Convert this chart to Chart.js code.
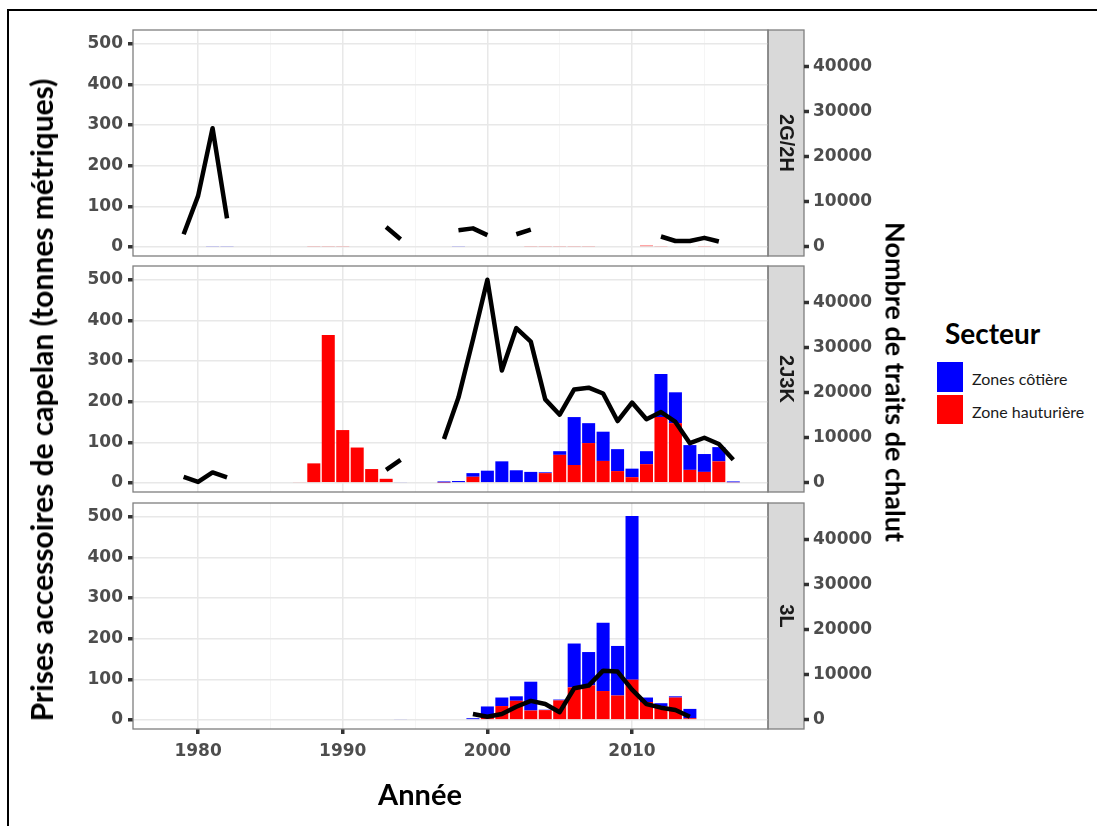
<!DOCTYPE html>
<html lang="fr">
<head>
<meta charset="utf-8">
<title>Prises accessoires de capelan</title>
<script src="https://cdn.jsdelivr.net/npm/chart.js@4.4.1/dist/chart.umd.min.js"></script>
<style>
  body { margin: 0; background: #fff; }
  #figure { position: relative; width: 1097px; height: 826px; overflow: hidden; background: #fff; font-family: Lato, "Open Sans", sans-serif; }
  #cadre { position: absolute; left: 7px; top: 9px; width: 1200px; height: 900px; border-left: 2.5px solid #000; border-top: 2.5px solid #000; }
  canvas { position: absolute; left: 0; }
  .titre { position: absolute; white-space: nowrap; font-weight: 700; color: #000; transform: translate(-50%, -50%); }
  .rot-g { transform: translate(-50%, -50%) rotate(-90deg); }
  .rot-d { transform: translate(-50%, -50%) rotate(90deg); }
  .cle { position: absolute; left: 937px; width: 26px; }
  .cle-texte { position: absolute; left: 972px; font-size: 16px; color: #1a1a1a; transform: translateY(-50%); white-space: nowrap; }
</style>
</head>
<body>
<div id="figure">
  <div id="cadre"></div>
  <canvas id="p1" width="900" height="266" style="top:10px"></canvas>
  <canvas id="p2" width="900" height="266" style="top:246px"></canvas>
  <canvas id="p3" width="900" height="296" style="top:483px"></canvas>

  <div class="titre rot-g" style="left:41px; top:400px; font-size:30px;">Prises accessoires de capelan (tonnes métriques)</div>
  <div class="titre rot-d" style="left:896px; top:382px; font-size:27px;">Nombre de traits de chalut</div>
  <div class="titre" style="left:420px; top:793px; font-size:29px;">Année</div>

  <div class="titre" style="left:945px; top:333px; font-size:28px; transform: translateY(-50%);">Secteur</div>
  <div class="cle" style="top:362px; height:30px; background:#0000ff;"></div>
  <div class="cle" style="top:395px; height:29px; background:#ff0000;"></div>
  <div class="cle-texte" style="top:378px;">Zones côtière</div>
  <div class="cle-texte" style="top:411px;">Zone hauturière</div>
</div>

<script>
// années 1979 à 2017
const annees = [1979, 1980, 1981, 1982,
  1983, 1984, 1985, 1986, 1987, 1988, 1989, 1990, 1991, 1992,
  1993, 1994, 1995, 1996, 1997, 1998, 1999, 2000, 2001, 2002,
  2003, 2004, 2005, 2006, 2007, 2008, 2009, 2010, 2011, 2012,
  2013, 2014, 2015, 2016, 2017];

// graduations de l'axe de droite
const ticksTraits = [0, 10000, 20000, 30000, 40000];

// 2G/2H
const hauturiere2G = [null, null, null, null,
  null, null, null, null, null, 1.5, 1.5, 1.5, null, null,
  null, null, null, null, null, null, null, null, null, null,
  1.5, 1.5, 1.5, 1.5, 1.5, null, null, null, 3, 1.5,
  null, null, 1.5, null, null];
const cotiere2G = [null, null, 1.5, 1.5,
  null, null, null, null, null, null, null, null, null, null,
  null, null, null, null, null, 1.5, null, null, null, null,
  null, null, null, null, null, null, null, null, null, null,
  null, null, null, null, null];
const traits2G = [2800, 11300, 26300, 6300,
  null, null, null, null, null, null, null, null, null, null,
  4400, 1700, null, null, null, 3700, 4100, 2600, null, 2800,
  3800, null, null, null, null, null, null, null, null, 2300,
  1300, 1300, 2000, 1200, null];

// 2J3K
const hauturiere2J = [null, null, null, null,
  null, null, null, null, 2, 48, 364, 130, 87, 34,
  10, null, null, null, 1, null, 15, 2, 2, 2,
  2, 24, 69, 44, 98, 54, 29, 14, 46, 162,
  147, 32, 27, 53, 1.5];
const cotiere2J = [null, null, null, null,
  null, null, null, null, null, null, null, null, null, null,
  null, 2, null, null, 2.5, 4.5, 9, 28, 51, 29,
  25, 2, 9, 118, 49, 72, 54, 21, 32, 106,
  76, 61, 44, 35, 2];
const traits2J = [1300, 200, 2300, 1200,
  null, null, null, null, null, null, null, null, null, null,
  2900, 5100, null, null, 9700, 18900, 31700, 45000, 24900, 34300,
  31300, 18500, 15100, 20700, 21100, 19800, 13700, 17800, 14100, 15700,
  13500, 8800, 10000, 8600, 5100];

// 3L
const hauturiere3L = [null, null, null, null,
  null, null, null, null, null, null, null, null, null, null,
  null, null, null, null, null, null, null, 11, 34, 47,
  23, 24, 48, 80, 85, 71, 60, 99, 44, 33,
  55, 4, null, null, null];
const cotiere3L = [null, null, null, null,
  null, null, null, null, null, null, null, null, null, null,
  null, 2, null, null, null, null, 4, 22, 21, 11,
  71, 1, 2, 108, 82, 168, 122, 403, 11, 8,
  3, 23, null, null, null];
const traits3L = [null, null, null, null,
  null, null, null, null, null, null, null, null, null, null,
  null, null, null, null, null, null, 1300, 700, 1300, 2900,
  4200, 3500, 1700, 7000, 7600, 10900, 10700, 6700, 3500, 2700,
  2200, 700, null, null, null];

// axe secondaire : 90 traits pour une tonne
const RAPPORT = 90;
const Y_MIN = -22.5, Y_MAX = 534;

const police = { family: '"DejaVu Sans", sans-serif', size: 17, weight: 'bold' };
const gris = '#4d4d4d';

const enPoints = vals => annees.map((a, i) => ({ x: a, y: vals[i] }));

// fond gris du bandeau et cadre du panneau
const bandeau = {
  id: 'bandeau',
  beforeDraw(chart) {
    const t = chart.titleBlock;
    const ctx = chart.ctx;
    ctx.save();
    ctx.fillStyle = '#d9d9d9';
    ctx.fillRect(t.left, t.top, t.width, t.height);
    ctx.strokeStyle = '#7f7f7f';
    ctx.lineWidth = 1.3;
    ctx.strokeRect(t.left, t.top, t.width, t.height);
    ctx.restore();
  },
  afterDraw(chart) {
    const a = chart.chartArea;
    const ctx = chart.ctx;
    ctx.save();
    ctx.strokeStyle = '#7f7f7f';
    ctx.lineWidth = 1.3;
    ctx.strokeRect(a.left, a.top, a.right - a.left, a.bottom - a.top);
    ctx.restore();
  }
};

function panneau(id, nom, rouge, bleu, traits, basX) {
  new Chart(document.getElementById(id), {
    type: 'bar',
    data: {
      datasets: [
        { label: 'Zone hauturière', data: enPoints(rouge), backgroundColor: '#ff0000', order: 1 },
        { label: 'Zones côtière', data: enPoints(bleu), backgroundColor: '#0000ff', order: 1 },
        { type: 'line', label: 'Traits', data: enPoints(traits), yAxisID: 'y2',
          borderColor: '#000', borderWidth: 4.5, pointRadius: 0, spanGaps: false,
          borderJoinStyle: 'round', borderCapStyle: 'butt', tension: 0, order: 0 }
      ]
    },
    options: {
      responsive: false,
      animation: false,
      layout: { padding: { top: 20, bottom: 0, left: 0, right: 0 } },
      datasets: { bar: { barPercentage: 0.9, categoryPercentage: 1 } },
      plugins: {
        legend: { display: false },
        tooltip: { enabled: false },
        title: {
          display: true, text: nom, position: 'right', fullSize: false,
          color: '#1a1a1a', padding: { top: 8, bottom: 8 },
          font: { family: '"Liberation Sans", Arial, sans-serif', size: 20, weight: 'bold', lineHeight: 1.0 }
        }
      },
      scales: {
        x: {
          type: 'linear', stacked: true, offset: false,
          min: 1975.5, max: 2019.4,
          border: { display: false },
          grid: {
            offset: false,
            drawTicks: basX,
            tickLength: 5,
            tickWidth: 3.5,
            tickColor: c => c.tick && c.tick.value % 10 === 0 ? '#333' : 'rgba(0,0,0,0)',
            color: c => c.tick && c.tick.value % 10 === 0 ? '#e8e8e8' : '#f2f2f2',
            lineWidth: c => c.tick && c.tick.value % 10 === 0 ? 1.5 : 0.8
          },
          ticks: {
            display: basX, stepSize: 5, includeBounds: false, autoSkip: false,
            maxRotation: 0, padding: 7, color: gris, font: police,
            callback: v => v % 10 === 0 ? String(v) : ''
          },
          afterFit: s => { s.height = basX ? 50 : 20; }
        },
        y: {
          stacked: true, position: 'left',
          min: Y_MIN, max: Y_MAX,
          border: { display: false },
          grid: {
            tickLength: 5,
            tickWidth: 3.5,
            tickColor: c => c.tick && c.tick.value % 100 === 0 ? '#333' : 'rgba(0,0,0,0)',
            color: c => c.tick && c.tick.value % 100 === 0 ? '#e8e8e8' : '#f2f2f2',
            lineWidth: c => c.tick && c.tick.value % 100 === 0 ? 1.5 : 0.8
          },
          ticks: {
            stepSize: 50, includeBounds: false, maxTicksLimit: 100, padding: 5,
            color: gris, font: police,
            callback: v => v % 100 === 0 ? String(v) : ''
          },
          afterFit: s => { s.width = 133; }
        },
        y2: {
          position: 'right', weight: 3000,
          min: Y_MIN * RAPPORT, max: Y_MAX * RAPPORT,
          border: { display: false },
          grid: { drawOnChartArea: false, tickLength: 5, tickWidth: 3.5, tickColor: '#333' },
          afterBuildTicks: s => { s.ticks = ticksTraits.map(v => ({ value: v })); },
          ticks: {
            padding: 4, color: gris, font: police,
            callback: v => String(v)
          },
          afterFit: s => { s.width = 96; }
        }
      }
    },
    plugins: [bandeau]
  });
}

panneau('p1', '2G/2H', hauturiere2G, cotiere2G, traits2G, false);
panneau('p2', '2J3K', hauturiere2J, cotiere2J, traits2J, false);
panneau('p3', '3L', hauturiere3L, cotiere3L, traits3L, true);
</script>
</body>
</html>
